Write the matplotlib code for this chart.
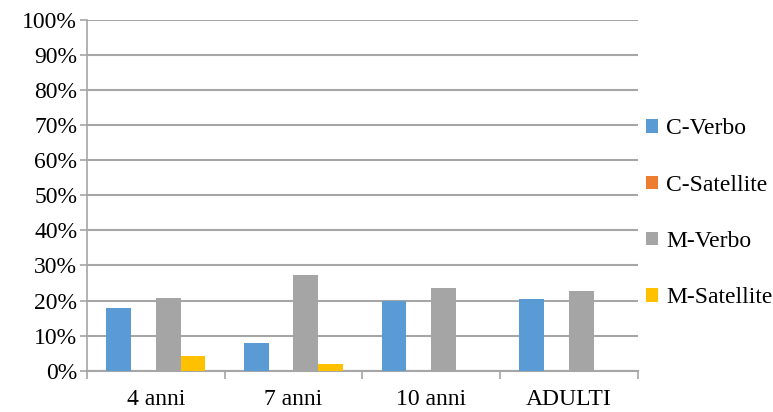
import numpy as np
import matplotlib.pyplot as plt
from matplotlib.patches import Patch

plt.rcParams['font.family'] = ['Liberation Serif', 'DejaVu Serif']

# data (percent)
categories = ['4 anni', '7 anni', '10 anni', 'ADULTI']
series = ['C-Verbo', 'C-Satellite', 'M-Verbo', 'M-Satellite']
c_verbo = [18.0, 7.8, 20.0, 20.5]
c_satellite = [0.0, 0.0, 0.0, 0.0]
m_verbo = [20.7, 27.4, 23.6, 22.7]
m_satellite = [4.2, 2.0, 0.0, 0.0]

values = [c_verbo, c_satellite, m_verbo, m_satellite]
colors = ['#5B9BD5', '#ED7D31', '#A5A5A5', '#FFC000']

fig = plt.figure(figsize=(7.73, 4.12), dpi=100)
ax = fig.add_axes([0.1125, 0.1002, 0.7125, 0.852])

x = np.arange(len(categories))
w = 0.18
for i, (vals, col) in enumerate(zip(values, colors)):
    ax.bar(x + (i - 1.5) * w, vals, w, color=col, zorder=3)

ax.set_xlim(-0.5, len(categories) - 0.5)
ax.set_ylim(0, 100)
ax.set_yticks(np.arange(0, 101, 10))
ax.set_yticklabels([f'{v}%' for v in range(0, 101, 10)], fontsize=17)
ax.set_xticks(x)
ax.set_xticklabels(categories, fontsize=17)
ax.set_xticks(np.arange(-0.5, len(categories), 1), minor=True)

grid_col = '#A6A6A6'
ax.yaxis.grid(True, color=grid_col, linewidth=1.5, zorder=0)
ax.tick_params(axis='x', which='major', length=0, pad=13.5)
ax.tick_params(axis='x', which='minor', length=5.5, width=1.2, color=grid_col)
ax.tick_params(axis='y', length=5, width=1.2, color=grid_col, pad=2)

for s in ['top', 'right']:
    ax.spines[s].set_visible(False)
ax.spines['left'].set_color(grid_col)
ax.spines['left'].set_linewidth(1.2)
ax.spines['bottom'].set_color(grid_col)
ax.spines['bottom'].set_linewidth(1.5)

handles = [Patch(facecolor=c, edgecolor='none') for c in colors]
fig.legend(handles, series, loc='upper left', bbox_to_anchor=(0.836, 0.713),
           frameon=False, fontsize=17, handlelength=0.5, handleheight=0.5,
           handletextpad=0.35, labelspacing=1.5, borderpad=0, borderaxespad=0)

plt.savefig('out.png', dpi=100)
